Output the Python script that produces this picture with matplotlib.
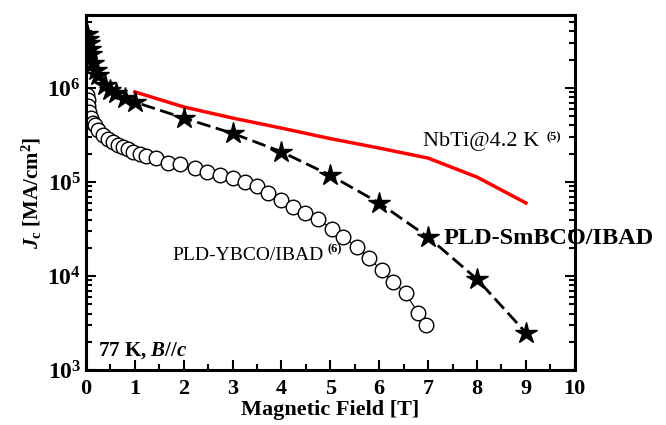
import matplotlib
matplotlib.use('Agg')
import matplotlib.pyplot as plt
from matplotlib.ticker import FixedLocator, LogLocator, NullFormatter

plt.rcParams['font.family'] = 'Liberation Serif'
plt.rcParams['mathtext.fontset'] = 'custom'
plt.rcParams['mathtext.rm'] = 'Liberation Serif:bold'
plt.rcParams['mathtext.it'] = 'Liberation Serif:italic:bold'
plt.rcParams['mathtext.bf'] = 'Liberation Serif:bold'

# PLD-SmBCO/IBAD (stars)
smbco_field = [0.02, 0.04, 0.06, 0.08, 0.10, 0.14, 0.2, 0.25, 0.39, 0.5, 0.61, 0.8,
               1, 2, 3, 4, 5, 6, 7, 8, 9]
smbco_jc = [3.8e6, 3.3e6, 3.0e6, 2.6e6, 2.3e6, 1.85e6, 1.55e6, 1.37e6, 1.08e6, 9.5e5, 8.8e5, 7.8e5,
            7.1e5, 4.8e5, 3.3e5, 2.1e5, 1.18e5, 6.0e4, 2.6e4, 9.3e3, 2.5e3]

# NbTi @ 4.2 K (red line)
nbti_field = [1, 2, 3, 4, 5, 6, 7, 8, 9]
nbti_jc = [9.1e5, 6.3e5, 4.8e5, 3.75e5, 2.9e5, 2.3e5, 1.8e5, 1.13e5, 6.0e4]

# PLD-YBCO/IBAD (open circles)
ybco_field = [0.03, 0.04, 0.05, 0.07, 0.1, 0.14, 0.18, 0.25, 0.35, 0.45, 0.55, 0.65, 0.76,
              0.86, 0.96, 1.1, 1.23, 1.43, 1.68, 1.92, 2.23, 2.47, 2.74, 3.0, 3.25, 3.5,
              3.72, 4.0, 4.23, 4.48, 4.74, 5.03, 5.26, 5.54, 5.79, 6.05, 6.28, 6.54, 6.79, 6.95]
ybco_jc = [8.4e5, 7.5e5, 6.5e5, 5.5e5, 4.8e5, 4.3e5, 4.0e5, 3.6e5, 3.16e5, 2.9e5, 2.7e5, 2.46e5,
           2.35e5, 2.24e5, 2.08e5, 2.0e5, 1.9e5, 1.8e5, 1.6e5, 1.55e5, 1.4e5, 1.28e5, 1.18e5,
           1.1e5, 1.0e5, 9.1e4, 7.6e4, 6.5e4, 5.4e4, 4.7e4, 4.05e4, 3.2e4, 2.6e4, 2.05e4,
           1.55e4, 1.15e4, 8.7e3, 6.6e3, 4.1e3, 3.0e3]

fig = plt.figure(figsize=(6.66, 4.25), dpi=100)
ax = fig.add_axes([0.129, 0.129, 0.734, 0.836])

ax.plot(ybco_field, ybco_jc, color='black', lw=0.8, zorder=1)
ax.plot(ybco_field, ybco_jc, 'o', ms=10.5, mfc='white', mec='black', mew=1.0, zorder=2)
ax.plot(nbti_field, nbti_jc, color='red', lw=2.5, zorder=3)
ax.plot(smbco_field, smbco_jc, color='black', lw=2, ls=(0, (5, 2)), zorder=4)
ax.plot(smbco_field, smbco_jc, '*', ms=16, color='black', zorder=5)

ax.set_yscale('log')
ax.set_xlim(0, 10)
ax.set_ylim(1e3, 6e6)

ax.xaxis.set_major_locator(FixedLocator(range(0, 11)))
ax.xaxis.set_minor_locator(FixedLocator([i + 0.5 for i in range(10)]))
ax.yaxis.set_major_locator(FixedLocator([1e3, 1e4, 1e5, 1e6]))
ax.yaxis.set_minor_locator(LogLocator(base=10, subs=range(2, 10)))
ax.yaxis.set_minor_formatter(NullFormatter())
ax.set_yticklabels([r'$10^{3}$', r'$10^{4}$', r'$10^{5}$', r'$10^{6}$'], fontsize=17)
ax.set_xticklabels([str(i) for i in range(11)], fontsize=16, fontweight='bold')

ax.tick_params(which='both', direction='in', top=False, right=True, width=1.5)
ax.tick_params(which='major', length=7)
ax.tick_params(which='minor', length=4)
ax.tick_params(axis='x', pad=6)
for s in ax.spines.values():
    s.set_linewidth(2.2)

ax.set_xlabel('Magnetic Field [T]', fontsize=16, fontweight='bold', labelpad=1)
ax.set_ylabel(r'$J_{\mathrm{c}}$ [MA/cm$^{2}$]', fontsize=15, fontweight='bold', labelpad=2)

ax.text(6.89, 2.7e5, 'NbTi@4.2 K', fontsize=16, va='center', ha='left')
ax.text(9.43, 3.0e5, '(5)', fontsize=9, fontweight='bold', va='center', ha='left')
ax.text(1.76, 1.65e4, 'PLD-YBCO/IBAD', fontsize=14, va='center', ha='left')
ax.text(4.95, 1.95e4, '(6)', fontsize=9, fontweight='bold', va='center', ha='left')
ax.text(7.32, 2.5e4, 'PLD-SmBCO/IBAD', fontsize=17.5, fontweight='bold', va='center', ha='left',
        clip_on=False)
ax.text(0.25, 1.6e3, r'77 K, $B//c$', fontsize=15, fontweight='bold', va='center', ha='left')

fig.savefig('out.png', dpi=100)
